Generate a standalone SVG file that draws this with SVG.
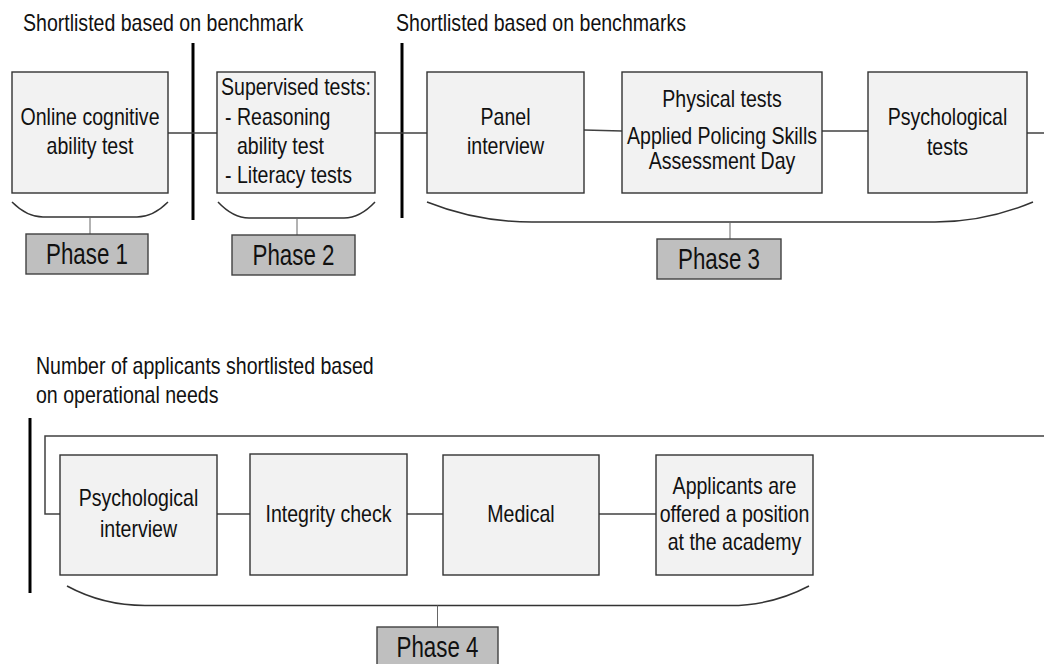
<svg xmlns="http://www.w3.org/2000/svg" width="1044" height="664" viewBox="0 0 1044 664">
<style>
.box{fill:#f2f2f2;stroke:#333;stroke-width:1.4}
.phase{fill:#bfbfbf;stroke:#404040;stroke-width:1.4}
.t{font-family:"Liberation Sans",Arial,sans-serif;font-size:23px;fill:#111}
.c{text-anchor:middle}
.pt{font-family:"Liberation Sans",Arial,sans-serif;font-size:29px;fill:#111;text-anchor:middle}
.con{fill:none;stroke:#404040;stroke-width:1.5}
.br{fill:none;stroke:#333;stroke-width:1.5}
.tick{fill:none;stroke:#666;stroke-width:1}
.bar{fill:none;stroke:#000;stroke-width:3}
</style>
<rect width="1044" height="664" fill="#fff"/>

<g id="titles">
<text class="t" transform="translate(23,31) scale(0.85,1)">Shortlisted based on benchmark</text>
<text class="t" transform="translate(396,31) scale(0.85,1)">Shortlisted based on benchmarks</text>
<text class="t" transform="translate(36,374) scale(0.85,1)">Number of applicants shortlisted based</text>
<text class="t" transform="translate(36,403) scale(0.85,1)">on operational needs</text>
</g>

<g id="bars">
<line class="bar" x1="193" y1="43" x2="193" y2="220"/>
<line class="bar" x1="402" y1="43" x2="402" y2="218"/>
<line class="bar" x1="30" y1="418" x2="30" y2="593"/>
</g>

<g id="connectors">
<line class="con" x1="168" y1="133" x2="217" y2="133"/>
<line class="con" x1="375" y1="133" x2="427" y2="133"/>
<line class="con" x1="584" y1="130" x2="622" y2="131"/>
<line class="con" x1="822" y1="131" x2="868" y2="131"/>
<line class="con" x1="1027" y1="133" x2="1044" y2="133"/>
<path class="con" d="M1044 436 H45 V514 H60"/>
<line class="con" x1="217" y1="514" x2="250" y2="514"/>
<line class="con" x1="407" y1="514" x2="443" y2="514"/>
<line class="con" x1="599" y1="514" x2="656" y2="514"/>
</g>

<g id="brackets">
<path class="br" d="M12 202 Q27 217 43 217 H137 Q153 217 168 202"/>
<line class="tick" x1="90" y1="217" x2="90" y2="234"/>
<path class="br" d="M218 202 Q233 218 249 218 H344 Q360 218 375 202"/>
<line class="tick" x1="297" y1="218" x2="297" y2="235"/>
<path class="br" d="M427 202 Q477 222 532 222 H935 Q985 222 1033 202"/>
<line class="tick" x1="730" y1="222" x2="730" y2="239"/>
<path class="br" d="M67 586 Q103 605.5 145 605.5 H730 Q772 605.5 809 586"/>
<line class="tick" x1="437.5" y1="605.5" x2="437.5" y2="627"/>
</g>

<g id="n-online">
<rect class="box" x="12" y="72" width="156" height="121"/>
<text class="t c" transform="translate(90,125) scale(0.85,1)">Online cognitive</text>
<text class="t c" transform="translate(90,153.5) scale(0.85,1)">ability test</text>
</g>
<g id="n-supervised">
<rect class="box" x="217" y="72" width="158" height="121"/>
<text class="t" transform="translate(221,95) scale(0.85,1)">Supervised tests:</text>
<text class="t" transform="translate(225,125) scale(0.85,1)">- Reasoning</text>
<text class="t" transform="translate(237,154) scale(0.85,1)">ability test</text>
<text class="t" transform="translate(225,182.5) scale(0.85,1)">- Literacy tests</text>
</g>
<g id="n-panel">
<rect class="box" x="427" y="72" width="157" height="121"/>
<text class="t c" transform="translate(505.5,125) scale(0.85,1)">Panel</text>
<text class="t c" transform="translate(505.5,154) scale(0.85,1)">interview</text>
</g>
<g id="n-physical">
<rect class="box" x="622" y="72" width="200" height="121"/>
<text class="t c" transform="translate(722,107) scale(0.85,1)">Physical tests</text>
<text class="t c" transform="translate(722,144) scale(0.85,1)">Applied Policing Skills</text>
<text class="t c" transform="translate(722,168.5) scale(0.85,1)">Assessment Day</text>
</g>
<g id="n-psychtests">
<rect class="box" x="868" y="72" width="159" height="121"/>
<text class="t c" transform="translate(947.5,125) scale(0.85,1)">Psychological</text>
<text class="t c" transform="translate(947.5,155) scale(0.85,1)">tests</text>
</g>

<g id="n-phase1">
<rect class="phase" x="26" y="234" width="122" height="40"/>
<text class="pt" transform="translate(87,264) scale(0.77,1)">Phase 1</text>
</g>
<g id="n-phase2">
<rect class="phase" x="232" y="235" width="123" height="40"/>
<text class="pt" transform="translate(293.5,265) scale(0.77,1)">Phase 2</text>
</g>
<g id="n-phase3">
<rect class="phase" x="657" y="239" width="124" height="40"/>
<text class="pt" transform="translate(719,269) scale(0.77,1)">Phase 3</text>
</g>

<g id="n-psychinterview">
<rect class="box" x="60" y="455" width="157" height="120"/>
<text class="t c" transform="translate(138.5,506) scale(0.85,1)">Psychological</text>
<text class="t c" transform="translate(138.5,537) scale(0.85,1)">interview</text>
</g>
<g id="n-integrity">
<rect class="box" x="250" y="454" width="157" height="121"/>
<text class="t c" transform="translate(328.5,522) scale(0.85,1)">Integrity check</text>
</g>
<g id="n-medical">
<rect class="box" x="443" y="455" width="156" height="120"/>
<text class="t c" transform="translate(521,522) scale(0.85,1)">Medical</text>
</g>
<g id="n-offered">
<rect class="box" x="656" y="455" width="157" height="120"/>
<text class="t c" transform="translate(734.5,493.5) scale(0.85,1)">Applicants are</text>
<text class="t c" transform="translate(734.5,521.5) scale(0.85,1)">offered a position</text>
<text class="t c" transform="translate(734.5,549.5) scale(0.85,1)">at the academy</text>
</g>
<g id="n-phase4">
<rect class="phase" x="377" y="627" width="121" height="40"/>
<text class="pt" transform="translate(437.5,656.5) scale(0.77,1)">Phase 4</text>
</g>
</svg>
